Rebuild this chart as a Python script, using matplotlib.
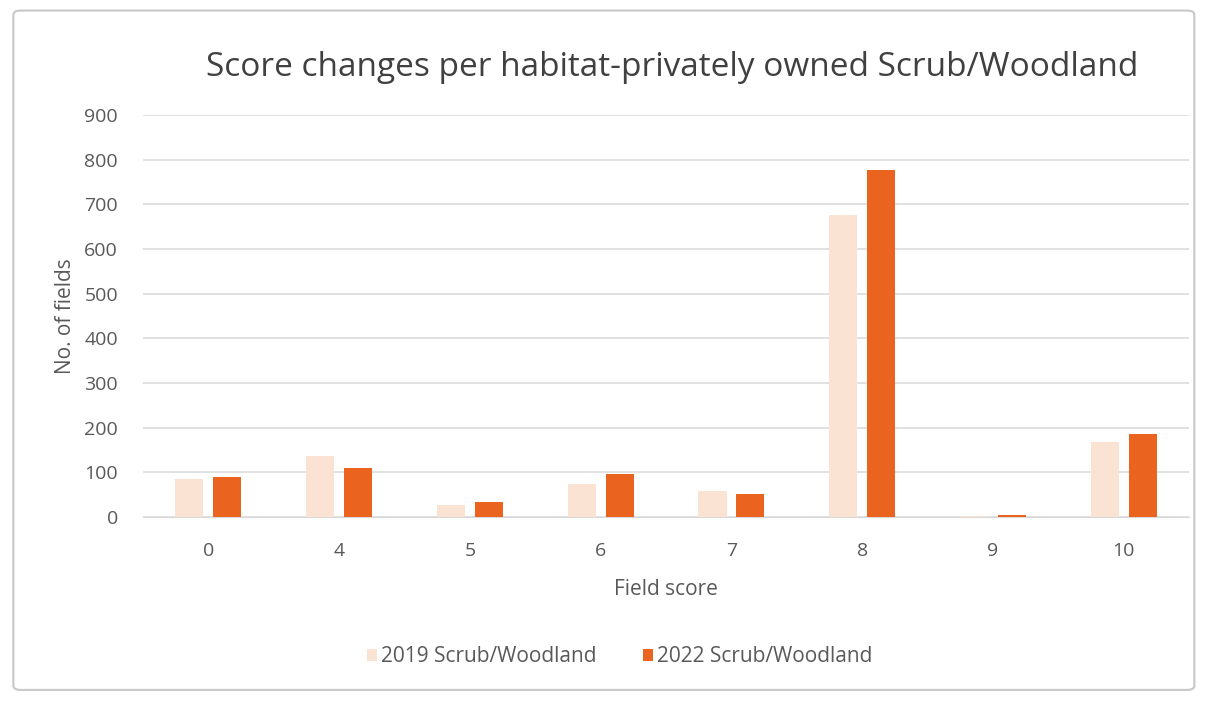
import numpy as np
import matplotlib.pyplot as plt
from matplotlib.patches import FancyBboxPatch

# Field scores and counts per survey year
scores = ['0', '4', '5', '6', '7', '8', '9', '10']
fields_2019 = [85, 136, 28, 74, 58, 676, 2, 167]
fields_2022 = [89, 109, 33, 97, 51, 777, 4, 185]

plt.rcParams['font.family'] = ['Open Sans', 'DejaVu Sans']

fig = plt.figure(figsize=(12.15, 7.04), dpi=100)
fig.patch.set_facecolor('white')

# chart frame
frame = FancyBboxPatch((0.011, 0.02), 0.972, 0.965, boxstyle='round,pad=0,rounding_size=0.006',
                       transform=fig.transFigure, facecolor='white', edgecolor='#C8C8C8',
                       linewidth=1.5, zorder=-5)
fig.patches.append(frame)

ax = fig.add_axes([0.1177, 0.2656, 0.861, 0.571])
ax.set_zorder(2)
ax.patch.set_alpha(0)
x = np.arange(len(scores))
w = 0.215
ax.bar(x - 0.145, fields_2019, w, color='#FBE3D3', label='2019 Scrub/Woodland', zorder=3)
ax.bar(x + 0.145, fields_2022, w, color='#EA6420', label='2022 Scrub/Woodland', zorder=3)

ax.set_xlim(-0.5, len(scores) - 0.5)
ax.set_ylim(0, 900)
ax.set_yticks(range(0, 901, 100))
ax.set_xticks(x)
ax.set_xticklabels(scores)
ax.grid(axis='y', color='#D9D9D9', linewidth=1.1, zorder=0)
ax.set_axisbelow(True)
for s in ['top', 'right', 'left']:
    ax.spines[s].set_visible(False)
ax.spines['bottom'].set_color('#D9D9D9')
ax.tick_params(axis='both', length=0, labelsize=14, labelcolor='#595959')
ax.tick_params(axis='y', pad=18)
ax.tick_params(axis='x', pad=18)

ax.set_ylabel('No. of fields', fontsize=15, color='#595959', labelpad=6)
ax.set_xlabel('Field score', fontsize=15, color='#595959', labelpad=14)
fig.text(0.553, 0.904, 'Score changes per habitat-privately owned Scrub/Woodland',
         ha='center', va='center', fontsize=24, color='#404040')

fig.legend(loc='center', bbox_to_anchor=(0.51, 0.067), ncol=2, frameon=False,
           fontsize=15, labelcolor='#595959', handlelength=0.5, handleheight=0.5,
           handletextpad=0.2, columnspacing=2.2)

fig.savefig('out.png', dpi=100, facecolor='white')
